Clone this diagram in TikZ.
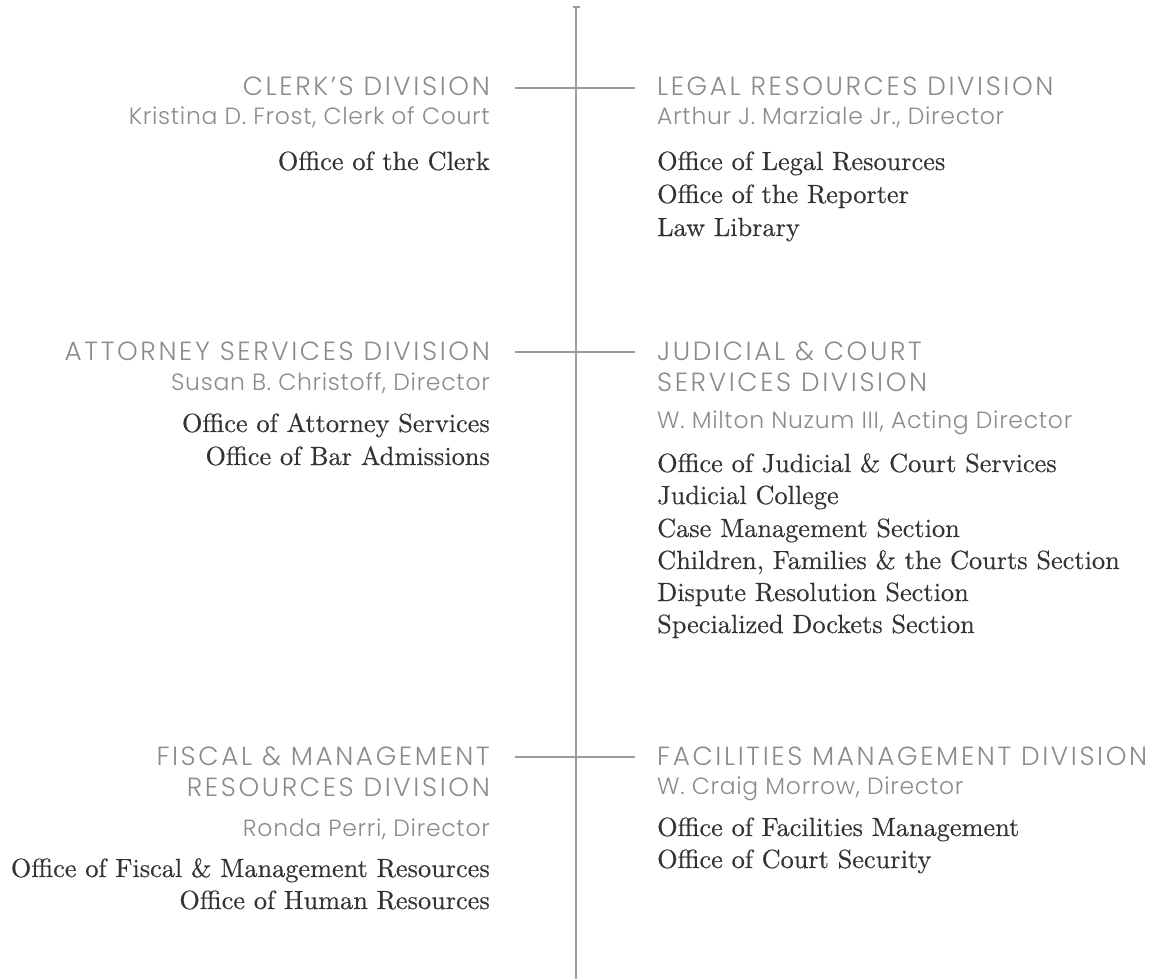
\documentclass[tikz,border=0pt]{standalone}
\usepackage{fontspec}
\newfontfamily\headfont{Poppins}[UprightFont=* Light, LetterSpace=10]
\newfontfamily\whofont{Poppins}[UprightFont=* Light, LetterSpace=3]
\newfontfamily\officefont{lmroman10-regular.otf}[FakeBold=0.4]
\definecolor{headgray}{HTML}{8A8B8E}
\definecolor{bodygray}{HTML}{333333}
\definecolor{rulegray}{HTML}{9C9C9E}

\begin{document}
\begin{tikzpicture}[x=1pt,y=-1pt]
  \tikzset{head/.style={inner sep=0pt, text=headgray, font=\headfont\fontsize{26.3}{26.3}\selectfont},
           who/.style={inner sep=0pt, text=headgray, font=\whofont\fontsize{23.5}{23.5}\selectfont},
           office/.style={inner sep=0pt, text=bodygray, font=\officefont\fontsize{26.3}{26.3}\selectfont},
           rule/.style={draw=rulegray, line width=1.2pt}}
  \useasboundingbox (0,0) rectangle (1157,979);

  % left column
  \node[head, anchor=base east] at (490,96) (clerk) {CLERK’S DIVISION};
  \node[who, anchor=base east] at (490,125) (clerkwho) {Kristina D. Frost, Clerk of Court};
  \node[office, anchor=base east] at (490,170) (clerkoff) {Office of the Clerk};

  \node[head, anchor=base east] at (490,360) (attorney) {ATTORNEY SERVICES DIVISION};
  \node[who, anchor=base east] at (490,390) (attorneywho) {Susan B. Christoff, Director};
  \node[office, anchor=base east] at (490,432) (attorneyoffa) {Office of Attorney Services};
  \node[office, anchor=base east] at (490,465) (attorneyoffb) {Office of Bar Admissions};

  \node[head, anchor=base east] at (490,765) (fiscal) {FISCAL \& MANAGEMENT};
  \node[head, anchor=base east] at (490,796) (fiscalb) {RESOURCES DIVISION};
  \node[who, anchor=base east] at (490,836) (fiscalwho) {Ronda Perri, Director};
  \node[office, anchor=base east] at (490,877) (fiscaloffa) {Office of Fiscal \& Management Resources};
  \node[office, anchor=base east] at (490,909) (fiscaloffb) {Office of Human Resources};

  % right column
  \node[head, anchor=base west] at (657,96) (legal) {LEGAL RESOURCES DIVISION};
  \node[who, anchor=base west] at (657,125) (legalwho) {Arthur J. Marziale Jr., Director};
  \node[office, anchor=base west] at (657,170) (legaloffa) {Office of Legal Resources};
  \node[office, anchor=base west] at (657,203) (legaloffb) {Office of the Reporter};
  \node[office, anchor=base west] at (657,236) (legaloffc) {Law Library};

  \node[head, anchor=base west] at (657,360) (judicial) {JUDICIAL \& COURT};
  \node[head, anchor=base west] at (657,391) (judicialb) {SERVICES DIVISION};
  \node[who, anchor=base west] at (657,428) (judicialwho) {W. Milton Nuzum III, Acting Director};
  \node[office, anchor=base west] at (657,472) (judicialoffa) {Office of Judicial \& Court Services};
  \node[office, anchor=base west] at (657,504) (judicialoffb) {Judicial College};
  \node[office, anchor=base west] at (657,537) (judicialoffc) {Case Management Section};
  \node[office, anchor=base west] at (657,569) (judicialoffd) {Children, Families \& the Courts Section};
  \node[office, anchor=base west] at (657,601) (judicialoffe) {Dispute Resolution Section};
  \node[office, anchor=base west] at (657,633) (judicialofff) {Specialized Dockets Section};

  \node[head, anchor=base west] at (657,765) (facilities) {FACILITIES MANAGEMENT DIVISION};
  \node[who, anchor=base west] at (657,794) (facilitieswho) {W. Craig Morrow, Director};
  \node[office, anchor=base west] at (657,836) (facilitiesoffa) {Office of Facilities Management};
  \node[office, anchor=base west] at (657,868) (facilitiesoffb) {Office of Court Security};

  % spine
  \coordinate (top) at (576,7);
  \coordinate (bottom) at (576,979);
  \path[rule] (top) edge (bottom);
  \path[rule] ([xshift=-3.5pt]top) edge ([xshift=3.5pt]top);

  \path[rule] ([xshift=25pt,yshift=8pt]clerk.base east) edge ([xshift=-22pt,yshift=8pt]legal.base west);
  \path[rule] ([xshift=25pt,yshift=8pt]attorney.base east) edge ([xshift=-22pt,yshift=8pt]judicial.base west);
  \path[rule] ([xshift=25pt,yshift=8pt]fiscal.base east) edge ([xshift=-22pt,yshift=8pt]facilities.base west);
\end{tikzpicture}
\end{document}
